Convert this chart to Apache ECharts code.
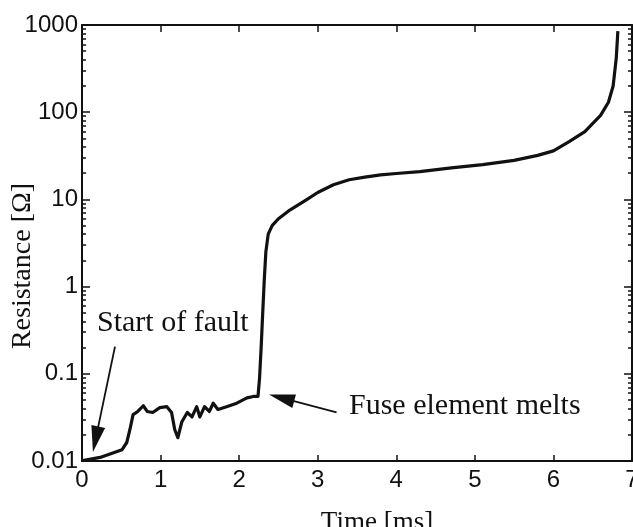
<!DOCTYPE html>
<html>
<head>
<meta charset="utf-8">
<script src="https://cdn.jsdelivr.net/npm/echarts@6/dist/echarts.min.js"></script>
<style>
html,body{margin:0;padding:0;background:#fff;}
#chart{width:633px;height:527px;}
</style>
</head>
<body>
<div id="chart"></div>
<script>
// Time [ms]
var timeMs = [0.01, 0.23, 0.51, 0.57, 0.61, 0.65, 0.71, 0.78, 0.83, 0.90, 0.99, 1.08, 1.14, 1.18, 1.22, 1.27, 1.34, 1.40, 1.46, 1.50, 1.56, 1.62, 1.67, 1.73, 1.84, 1.97, 2.10, 2.18, 2.24,
  2.26, 2.28, 2.30, 2.32, 2.34, 2.37, 2.42, 2.50, 2.65, 2.85, 3.0, 3.2, 3.4, 3.6, 3.8, 4.0, 4.3, 4.7, 5.1, 5.5, 5.8, 6.0, 6.2, 6.4, 6.6, 6.7, 6.76, 6.8, 6.82];
// Resistance [Ohm]
var resistance = [0.0101, 0.011, 0.0135, 0.0163, 0.023, 0.034, 0.037, 0.043, 0.037, 0.036, 0.041, 0.042, 0.036, 0.023, 0.0185, 0.028, 0.036, 0.032, 0.042, 0.032, 0.042, 0.037, 0.046, 0.039, 0.042, 0.046, 0.053, 0.055, 0.055,
  0.09, 0.2, 0.5, 1.2, 2.5, 4.0, 5.0, 6.0, 7.6, 9.8, 12, 14.7, 16.8, 18.0, 19.1, 19.8, 20.8, 23, 25, 28, 32, 36, 46, 60, 92, 130, 200, 420, 850];
var xTicks = [0, 1, 2, 3, 4, 5, 6, 7];
var yTickLabels = ['0.01', '0.1', '1', '10', '100', '1000'];
var yDecades = [0.01, 0.1, 1, 10, 100];
// annotations: [arrow start], [arrow head centre]
var faultArrow = [[0.42, 0.205], [0.173, 0.0178]];
var meltArrow = [[3.24, 0.036], [2.54, 0.053]];

var minorVals = [];
yDecades.forEach(function (d) { for (var k = 2; k <= 9; k++) minorVals.push(+(k * d).toPrecision(3)); });
var majorVals = yTickLabels.map(Number);

var ink = '#111';
var sansFont = '"Liberation Sans", Arial, sans-serif';
var serifFont = '"Liberation Serif", "Times New Roman", serif';

function yAxisDef(pos, isMajor, withLabels) {
  return {
    type: 'log', logBase: 10, min: 0.01, max: 1000, position: pos,
    axisLine: { show: isMajor, lineStyle: { color: ink, width: 2 } },
    axisTick: { show: true, inside: true, length: isMajor ? 8 : 4, customValues: isMajor ? majorVals : minorVals,
      lineStyle: { color: ink, width: 1.5 } },
    axisLabel: withLabels ? { show: true, customValues: majorVals, margin: 4, color: ink, fontSize: 24, fontFamily: sansFont,
      formatter: function (v) { var i = majorVals.indexOf(+(+v).toPrecision(3)); return i >= 0 ? yTickLabels[i] : ''; } } : { show: false },
    splitLine: { show: false }, minorTick: { show: false },
    name: withLabels ? 'Resistance [\u03A9]' : '',
    nameLocation: 'middle', nameGap: 45, nameRotate: 90, nameMoveOverlap: false,
    nameTextStyle: { fontFamily: serifFont, fontSize: 28, color: ink, padding: [0, 46, 0, 0] }
  };
}

var chart = echarts.init(document.getElementById('chart'), null, { renderer: 'canvas' });
chart.setOption({
  backgroundColor: '#fff',
  animation: false,
  grid: { left: 82, right: 1, top: 25, bottom: 66, containLabel: false, outerBoundsMode: 'none' },
  xAxis: [
    { type: 'value', position: 'bottom', min: 0, max: 7, interval: 1,
      axisLine: { show: true, onZero: false, lineStyle: { color: ink, width: 2 } },
      axisTick: { show: true, inside: true, length: 6, lineStyle: { color: ink, width: 1.5 } },
      axisLabel: { color: ink, fontSize: 24, fontFamily: sansFont, margin: 7,
        formatter: function (v) { return xTicks.indexOf(v) >= 0 ? String(v) : ''; } },
      splitLine: { show: false },
      name: 'Time [ms]', nameLocation: 'middle', nameGap: 48, nameMoveOverlap: false,
      nameTextStyle: { fontFamily: serifFont, fontSize: 27, color: ink, padding: [0, 0, 0, 40] } },
    { type: 'value', position: 'top', min: 0, max: 7, interval: 1,
      axisLine: { show: true, onZero: false, lineStyle: { color: ink, width: 2 } },
      axisTick: { show: true, inside: true, length: 7, lineStyle: { color: ink, width: 1.5 } },
      axisLabel: { show: false }, splitLine: { show: false } }
  ],
  yAxis: [
    yAxisDef('left', true, true),
    yAxisDef('left', false, false),
    yAxisDef('right', true, false),
    yAxisDef('right', false, false)
  ],
  series: [{
    type: 'line', xAxisIndex: 0, yAxisIndex: 0,
    data: timeMs.map(function (t, i) { return [t, resistance[i]]; }),
    showSymbol: false, symbol: 'none', smooth: false,
    lineStyle: { color: ink, width: 3.2, join: 'round' },
    markLine: {
      silent: true, animation: false,
      symbol: ['none', 'triangle'], symbolSize: [14, 26],
      label: { show: false },
      lineStyle: { color: ink, width: 1.8, type: 'solid' },
      data: [
        [{ coord: faultArrow[0] }, { coord: faultArrow[1] }],
        [{ coord: meltArrow[0] }, { coord: meltArrow[1] }]
      ]
    }
  }],
  graphic: [
    { type: 'text', left: 97, top: 308, style: { text: 'Start of fault', font: '30px ' + serifFont, fill: ink } },
    { type: 'text', left: 349, top: 391, style: { text: 'Fuse element melts', font: '30px ' + serifFont, fill: ink } }
  ]
});
</script>
</body>
</html>
